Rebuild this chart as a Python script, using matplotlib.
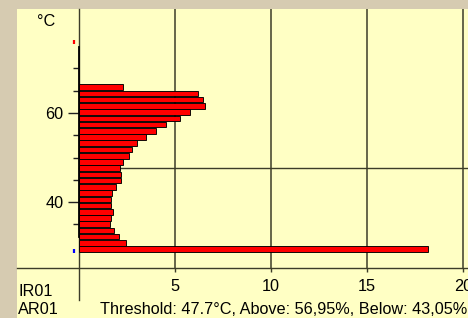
import matplotlib
matplotlib.use("Agg")
import matplotlib.pyplot as plt
from matplotlib.patches import Rectangle

plt.rcParams['font.family'] = ['Liberation Sans', 'DejaVu Sans']

# histogram bins (deg C, bin centre) and share of pixels (%)
temps = [65.8, 64.4, 63.0, 61.6, 60.2, 58.8, 57.4, 56.0, 54.6, 53.2, 51.8, 50.4, 49.0,
         47.6, 46.2, 44.8, 43.4, 42.0, 40.6, 39.2, 37.8, 36.4, 35.0, 33.6, 32.2, 30.8, 29.4]
shares = [2.27, 6.18, 6.48, 6.58, 5.78, 5.26, 4.53, 4.01, 3.49, 3.02, 2.76, 2.62, 2.29,
          2.15, 2.19, 2.19, 1.94, 1.74, 1.65, 1.68, 1.75, 1.65, 1.63, 1.82, 2.10, 2.47, 18.19]
threshold = 47.7
t_max = 76.0
t_min = 29.0
x_ticks = [5, 10, 15, 20]
y_major = [40, 60]
y_minor = [35, 45, 50, 55, 65, 70]
info = "Threshold: 47.7°C, Above: 56,95%, Below: 43,05%"

W, H = 468, 318
tan = '#d6cbb1'
yellow = '#ffffc4'
grid_c = '#3c3c28'
fs = 11.7

fig = plt.figure(figsize=(W / 100, H / 100), dpi=100, facecolor=tan)
fig.patches.append(Rectangle((17 / W, 0), 1 - 17 / W, 1 - 9 / H, transform=fig.transFigure,
                             facecolor=yellow, edgecolor='none', zorder=-10))

ax = fig.add_axes([17 / W, (H - 268) / H, (W - 17) / W, (268 - 9) / H])
ax.set_facecolor('none')
ax.set_xlim(-3.229, 20.26)
ax.set_ylim(25.17, 83.37)

for s in ['top', 'right', 'left']:
    ax.spines[s].set_visible(False)
ax.spines['bottom'].set_color(grid_c)
ax.spines['bottom'].set_linewidth(1.0)
ax.spines['left'].set_position(('data', 0))

# grid + threshold behind the bars
for xv in x_ticks:
    ax.plot([xv, xv], [25.17, 83.37], color=grid_c, lw=1.1, zorder=1)
ax.plot([0, 0], [18.0, 83.37], color=grid_c, lw=1.0, zorder=1, clip_on=False)
ax.plot([0, 20.26], [threshold, threshold], color=grid_c, lw=1.0, zorder=1)

ax.barh(temps, shares, height=1.25, color='#ff0000', edgecolor='black', lw=0.65, zorder=3)

# temperature axis
ax.plot([0, 0], [32.1, 74.8], color='black', lw=1.3, zorder=4)
ax.plot([-0.28], [t_max], marker='|', ms=3.2, mew=1.6, color='#ff0000', zorder=4)
ax.plot([-0.28], [t_min], marker='|', ms=3.2, mew=1.6, color='#0000ff', zorder=4)

ax.set_xticks(x_ticks)
ax.set_xticklabels([str(v) for v in x_ticks])
ax.tick_params(axis='x', direction='out', length=3, width=1.0, color=grid_c,
               pad=5, labelsize=fs)
ax.set_yticks(y_major)
ax.set_yticks(y_minor, minor=True)
ax.set_yticklabels([str(v) for v in y_major])
ax.tick_params(axis='y', which='major', direction='out', length=8, width=1.0,
               color='#202020', pad=3, labelsize=fs)
ax.tick_params(axis='y', which='minor', direction='out', length=4.3, width=1.0,
               color='#202020')

fig.text(46 / W, 1 - 22 / H, '°C', ha='center', va='center', fontsize=fs)
fig.text(18 / W, 1 - 292 / H, 'IR01', ha='left', va='center', fontsize=fs)
fig.text(18 / W, 1 - 309 / H, 'AR01', ha='left', va='center', fontsize=fs)
fig.text(100 / W, 1 - 309 / H, info, ha='left', va='center', fontsize=fs)

fig.savefig('out.png', dpi=100, facecolor=tan)
